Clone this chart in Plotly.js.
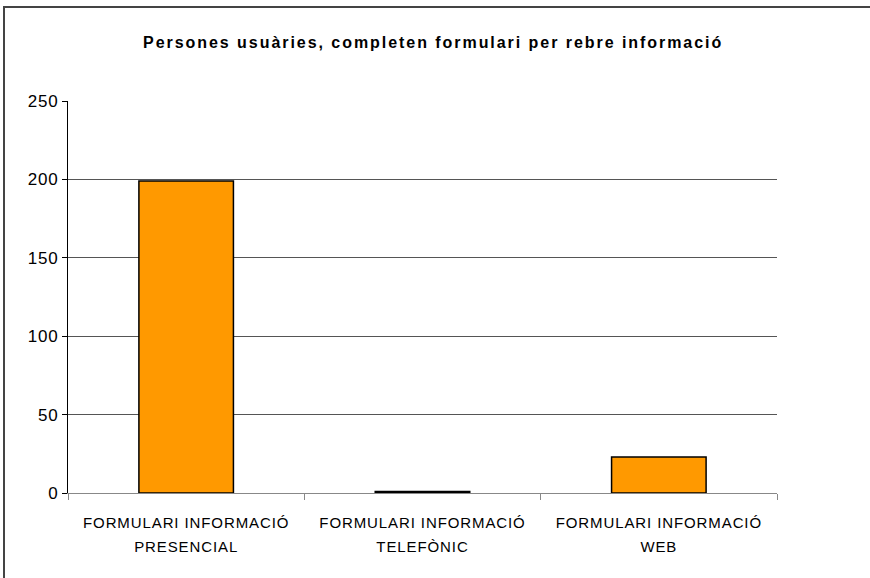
<!DOCTYPE html>
<html>
<head>
<meta charset="utf-8">
<script src="https://cdn.plot.ly/plotly-3.0.1.min.js"></script>
<style>
html,body{margin:0;padding:0;background:#fff;}
#wrap{position:relative;width:870px;height:578px;overflow:hidden;}
#frame{position:absolute;left:3px;top:6px;width:900px;height:600px;border-top:2px solid #444;border-left:2px solid #444;pointer-events:none;}
#chart{position:absolute;left:0;top:0;width:870px;height:578px;}
#chart .gtitle{letter-spacing:1.95px;}
#chart .xtick text, #chart .x2tick text{letter-spacing:0.9px;}
#chart .ytick text{letter-spacing:0.8px;}
</style>
</head>
<body>
<div id="wrap">
<div id="chart"></div>
<div id="frame"></div>
</div>
<script>
const categories = ["PRESENCIAL", "TELEFÒNIC", "WEB"];
const labelLine1 = ["FORMULARI INFORMACIÓ", "FORMULARI INFORMACIÓ", "FORMULARI INFORMACIÓ"];
const labelLine2 = ["PRESENCIAL", "TELEFÒNIC", "WEB"];
const values = [199, 1, 23];
const yTicks = [0, 50, 100, 150, 200, 250];
const titleText = "Persones usuàries, completen formulari per rebre informació";

const font = "Liberation Sans, Arial, sans-serif";

Plotly.newPlot("chart", [{
  type: "bar",
  x: categories,
  y: values,
  marker: {color: "#FF9900", line: {color: "#000000", width: 1.5}},
  hoverinfo: "none"
}, {
  type: "scatter",
  mode: "markers",
  x: categories,
  y: values,
  xaxis: "x2",
  yaxis: "y",
  marker: {opacity: 0},
  hoverinfo: "none"
}], {
  width: 870, height: 578,
  margin: {l: 68, r: 93, t: 101, b: 85, pad: 0},
  paper_bgcolor: "#ffffff",
  plot_bgcolor: "#ffffff",
  bargap: 0.6,
  showlegend: false,
  title: {
    text: "<b>" + titleText + "</b>",
    font: {family: font, size: 16, color: "#000"},
    x: 0.515, xref: "paper", xanchor: "center",
    y: 1 - 42 / 578, yref: "container", yanchor: "middle"
  },
  xaxis: {
    type: "category",
    tickvals: categories,
    ticktext: labelLine1,
    tickson: "boundaries",
    ticks: "outside", ticklen: 6, tickcolor: "#888", tickwidth: 1,
    showline: true, linecolor: "#888", linewidth: 1,
    showgrid: false, zeroline: false,
    ticklabelstandoff: 16,
    tickfont: {family: font, size: 15, color: "#000"},
    automargin: false
  },
  xaxis2: {
    type: "category",
    matches: "x",
    overlaying: "x",
    anchor: "y",
    side: "bottom",
    tickvals: categories,
    ticktext: labelLine2,
    ticks: "", showline: false, showgrid: false, zeroline: false,
    ticklabelstandoff: 43,
    tickfont: {family: font, size: 15, color: "#000"},
    automargin: false
  },
  yaxis: {
    range: [0, 250],
    tickvals: yTicks,
    ticks: "outside", ticklen: 5, tickcolor: "#000", tickwidth: 1,
    showline: true, linecolor: "#000", linewidth: 1,
    showgrid: true, gridcolor: "#555", gridwidth: 1,
    zeroline: false,
    tickfont: {family: font, size: 17, color: "#000"},
    automargin: false
  }
}, {displayModeBar: false, staticPlot: true});
</script>
</body>
</html>
